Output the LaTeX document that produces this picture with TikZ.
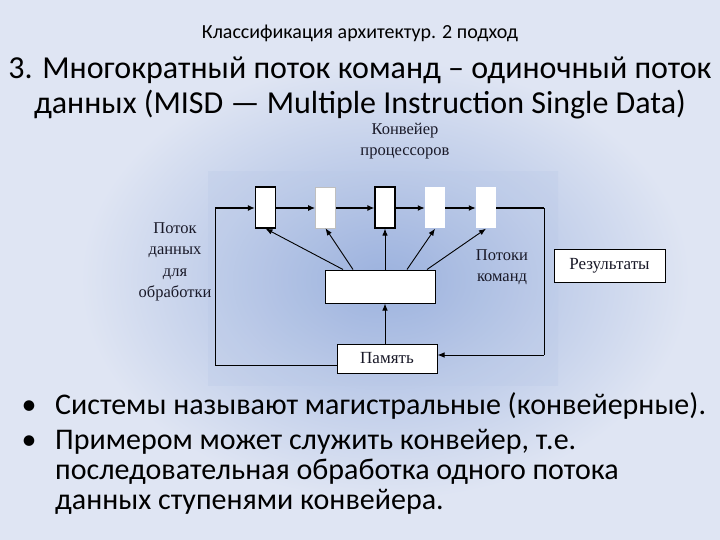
\documentclass[tikz,border=0pt]{standalone}
\usepackage{fontspec}
\setmainfont{Carlito}
\newfontfamily\diagfont{Liberation Serif}
\usetikzlibrary{arrows.meta}
\definecolor{bgout}{RGB}{223,229,243}
\definecolor{bgin}{RGB}{156,178,222}
\definecolor{labcol}{RGB}{25,25,40}
\begin{document}
\begin{tikzpicture}[x=1pt,y=-1pt,
  slidetext/.style={inner sep=0pt,anchor=base,text=black},
  proc/.style={draw=black,line width=1.2pt,fill=white,minimum width=20pt,minimum height=41pt,inner sep=0pt},
  procsoft/.style={draw=none,fill=white,minimum width=20pt,minimum height=41pt,inner sep=0pt},
  wbox/.style={draw=black,line width=1pt,fill=white,inner sep=0pt,font=\diagfont\fontsize{17}{19}\selectfont,text=labcol},
  lab/.style={inner sep=0pt,font=\diagfont\fontsize{16.5}{21.5}\selectfont,text=labcol,align=center},
  pipe/.style={line width=1.6pt,-{Latex[length=7pt,width=6pt]}},
  thin/.style={line width=0.9pt,-{Latex[length=7pt,width=5.5pt]}},
  plain/.style={line width=1pt}
]
\useasboundingbox (0,0) rectangle (720,540);
\fill[bgout] (0,0) rectangle (720,540);
\shade[inner color=bgin,outer color=bgout] (80,60) rectangle (690,500);
\shade[inner color=bgin,outer color=bgin!55!bgout,opacity=0.3] (208,172) rectangle (558,385);

% titles
\node[slidetext,font=\fontsize{20}{24}\selectfont] (title) at (360,39) {Классификация архитектур. 2 подход};
\node[slidetext,font=\fontsize{32}{36}\selectfont] (h1) at (360,79) {3. Многократный поток команд – одиночный поток};
\node[slidetext,font=\fontsize{32}{36}\selectfont] (h2) at (360,114) {данных (MISD — Multiple Instruction Single Data)};

% diagram labels
\node[lab] (konv) at (405,141) {Конвейер\\процессоров};
\node[lab] (potok) at (175,262) {Поток\\данных\\для\\обработки};
\node[lab] (komand) at (502,267) {Потоки\\команд};

% processors
\node[proc] (p1) at (265.5,207.5) {};
\node[procsoft,draw=gray!50,line width=0.6pt] (p2) at (325.5,207.5) {};
\node[proc] (p3) at (385,207.5) {};
\node[procsoft] (p4) at (435,208) {};
\node[procsoft] (p5) at (486,208) {};

% boxes
\node[wbox,minimum width=110pt,minimum height=33pt] (mid) at (380,286.5) {};
\node[wbox,minimum width=100pt,minimum height=29pt] (mem) at (387,358.5) {Память};
\node[wbox,minimum width=111pt,minimum height=33pt] (res) at (609.5,265.5) {Результаты};

% connector corners
\coordinate (cLB) at (215,365);
\coordinate (cLT) at (215,208);
\coordinate (cRT) at (544,208);
\coordinate (cRB) at (544,355);

% data stream
\draw[plain] (mem.west |- cLB) -- (cLB) -- (cLT);
\draw[pipe] (cLT) -- (p1.west |- cLT);
\draw[pipe] (p1.east |- cLT) -- (p2.west |- cLT);
\draw[pipe] (p2.east |- cLT) -- (p3.west |- cLT);
\draw[pipe] (p3.east |- cLT) -- (p4.west |- cLT);
\draw[pipe] (p4.east |- cLT) -- (p5.west |- cLT);
\draw[plain,line width=1.6pt] (p5.east |- cRT) -- (cRT);
\draw[plain] (cRT) -- (cRB);
\draw[thin] (cRB) -- (mem.east |- cRB);

% memory to control
\draw[thin] ([xshift=-2pt]mem.north) -- ([xshift=-2pt]mem.north |- mid.south);

% instruction streams
\draw[thin] ([xshift=-37pt]mid.north) -- (p1.south);
\draw[thin] ([xshift=-27pt]mid.north) -- (p2.south);
\draw[thin] ([xshift=5pt]mid.north) -- (p3.south);
\draw[thin] ([xshift=27pt]mid.north) -- (p4.south);
\draw[thin] ([xshift=47pt]mid.north) -- (p5.south);

% bullets
\node[slidetext,anchor=base,font=\fontsize{30}{32}\selectfont] (b1) at (29,414) {•};
\node[slidetext,anchor=base,font=\fontsize{30}{32}\selectfont] (b2) at (29,449) {•};
\node[slidetext,anchor=base west,font=\fontsize{30}{32}\selectfont] (t1) at (55,414) {Системы называют магистральные (конвейерные).};
\node[slidetext,anchor=base west,font=\fontsize{30}{32}\selectfont] (t2) at (55,449) {Примером может служить конвейер, т.е.};
\node[slidetext,anchor=base west,font=\fontsize{30}{32}\selectfont] (t3) at (55,479) {последовательная обработка одного потока};
\node[slidetext,anchor=base west,font=\fontsize{30}{32}\selectfont] (t4) at (55,509) {данных ступенями конвейера.};
\end{tikzpicture}
\end{document}
